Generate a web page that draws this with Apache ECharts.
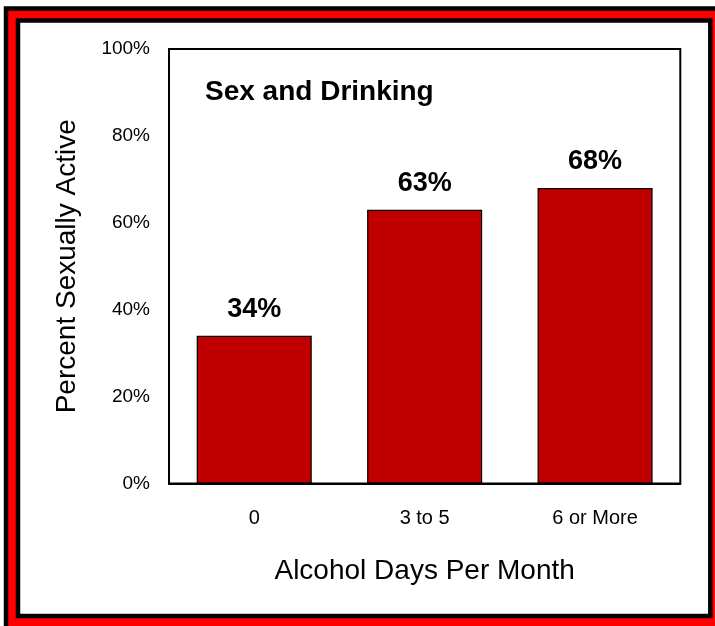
<!DOCTYPE html>
<html>
<head>
<meta charset="utf-8">
<script src="https://cdn.jsdelivr.net/npm/echarts@6/dist/echarts.min.js"></script>
<style>
html,body{margin:0;padding:0;background:#fff;}
#chart{width:715px;height:626px;}
</style>
</head>
<body>
<div id="chart"></div>
<script>
const categories = ['0', '3 to 5', '6 or More'];
const values = [34, 63, 68];
const yTicks = [0, 20, 40, 60, 80, 100];

const FONT = "'Liberation Sans', Arial, sans-serif";
const chart = echarts.init(document.getElementById('chart'), null, {renderer: 'canvas'});
chart.setOption({
  animation: false,
  backgroundColor: '#fff',
  graphic: {
    elements: [
      {type: 'rect', z: -20, silent: true,
       shape: {x: 6, y: 8.5, width: 800, height: 700},
       style: {fill: '#FF0000', stroke: '#000', lineWidth: 4.5}},
      {type: 'rect', z: -10, silent: true,
       shape: {x: 18, y: 20.5, width: 692.3, height: 595.5},
       style: {fill: '#FFFFFF', stroke: '#000', lineWidth: 4.5}}
    ]
  },
  title: {
    text: 'Sex and Drinking',
    left: 205, top: 78, padding: 0,
    textStyle: {fontFamily: FONT, fontWeight: 'bold', fontSize: 28, color: '#000'}
  },
  grid: {
    left: 169, top: 49, right: 34.7, bottom: 142.5,
    containLabel: false, outerBoundsMode: 'none',
    show: true, borderColor: '#000', borderWidth: 2, backgroundColor: 'transparent'
  },
  xAxis: {
    type: 'category',
    data: categories,
    name: 'Alcohol Days Per Month',
    nameLocation: 'middle',
    nameGap: 74,
    nameTextStyle: {fontFamily: FONT, fontSize: 28, color: '#000'},
    axisLine: {show: true, lineStyle: {color: '#000', width: 2}},
    axisTick: {show: false},
    axisLabel: {fontFamily: FONT, fontSize: 20, color: '#000', margin: 25}
  },
  yAxis: {
    type: 'value',
    min: yTicks[0], max: yTicks[yTicks.length - 1], interval: yTicks[1] - yTicks[0],
    name: 'Percent Sexually Active',
    nameLocation: 'middle',
    nameGap: 88,
    nameTextStyle: {fontFamily: FONT, fontSize: 28, color: '#000'},
    axisLine: {show: true, lineStyle: {color: '#000', width: 2}},
    axisTick: {show: false},
    splitLine: {show: false},
    axisLabel: {fontFamily: FONT, fontSize: 19, color: '#000', margin: 19, formatter: '{value}%'}
  },
  series: [{
    type: 'bar',
    data: values,
    barWidth: '67.5%',
    itemStyle: {color: '#C00000', borderColor: '#000', borderWidth: 1.2},
    label: {
      show: true, position: 'top', distance: 13,
      formatter: '{c}%',
      fontFamily: FONT, fontWeight: 'bold', fontSize: 27, color: '#000'
    }
  }]
});
</script>
</body>
</html>
